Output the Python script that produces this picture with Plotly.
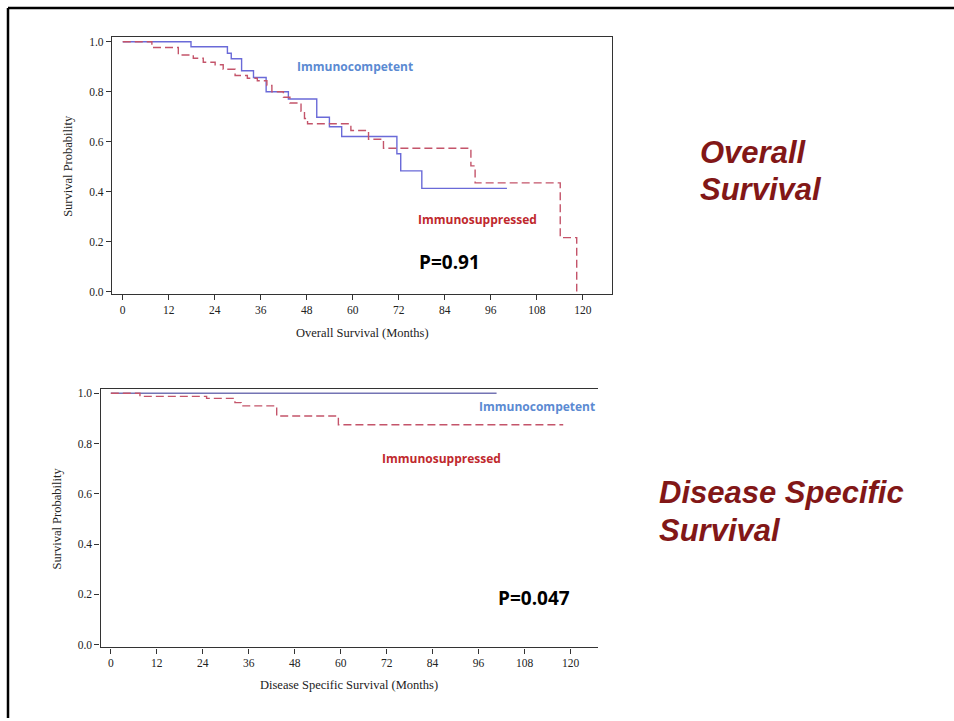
import plotly.graph_objects as go

W, H = 954, 721

# ---------------- data ----------------
os_comp_t = [0, 17.8, 27.3, 28.3, 31.0, 34.1, 37.4, 43.2, 50.6, 53.9, 57.1, 71.5, 72.5, 78.0, 100.2]
os_comp_s = [1.0, 0.98, 0.954, 0.932, 0.884, 0.857, 0.80, 0.771, 0.698, 0.66, 0.621, 0.552, 0.483, 0.413, 0.413]

os_supp_t = [0, 7.6, 14.5, 18.4, 21.0, 24.1, 26.2, 29.3, 32.5, 35.1, 37.6, 38.9, 41.9, 43.6, 46.5, 47.4, 48.2,
             59.5, 64.1, 68.0, 90.8, 91.9, 114.1, 118.4]
os_supp_s = [1.0, 0.977, 0.947, 0.934, 0.918, 0.908, 0.890, 0.865, 0.854, 0.844, 0.825, 0.80, 0.778, 0.755,
             0.722, 0.693, 0.672, 0.645, 0.61, 0.574, 0.503, 0.435, 0.216, 0.0]

dss_comp_t = [0, 100.7]
dss_comp_s = [1.0, 1.0]

dss_supp_t = [0, 7.6, 25.0, 32.4, 34.0, 43.3, 59.4, 118.1]
dss_supp_s = [1.0, 0.988, 0.980, 0.963, 0.950, 0.910, 0.875, 0.875]

x_ticks = [0, 12, 24, 36, 48, 60, 72, 84, 96, 108, 120]
y_ticks = [0.0, 0.2, 0.4, 0.6, 0.8, 1.0]
y_tick_labels = ["0.0", "0.2", "0.4", "0.6", "0.8", "1.0"]

# ---------------- helpers ----------------
def fx(px):
    return px / W

def fy(py):
    return 1 - py / H

BLUE = "#6a6ad8"
RED = "#c4546a"
SERIF = "Liberation Serif"

fig = go.Figure()

fig.add_trace(go.Scatter(x=os_comp_t, y=os_comp_s, mode="lines", line=dict(shape="hv", color=BLUE, width=1.4),
                         xaxis="x", yaxis="y", hoverinfo="skip"))
fig.add_trace(go.Scatter(x=os_supp_t, y=os_supp_s, mode="lines",
                         line=dict(shape="hv", color=RED, width=1.4, dash="8px,4px"),
                         xaxis="x", yaxis="y", hoverinfo="skip"))
fig.add_trace(go.Scatter(x=dss_comp_t, y=dss_comp_s, mode="lines", line=dict(shape="hv", color="#7474b4", width=1.4),
                         xaxis="x2", yaxis="y2", hoverinfo="skip"))
fig.add_trace(go.Scatter(x=dss_supp_t, y=dss_supp_s, mode="lines",
                         line=dict(shape="hv", color=RED, width=1.4, dash="8px,4px"),
                         xaxis="x2", yaxis="y2", hoverinfo="skip"))

axis_common = dict(showgrid=False, zeroline=False, showline=True, linecolor="#333333", linewidth=1.3,
                   ticks="outside", ticklen=5, tickcolor="#333333", tickwidth=1,
                   tickfont=dict(family=SERIF, size=11.5, color="#222222"))

fig.update_layout(
    width=W, height=H, margin=dict(l=0, r=0, t=0, b=0),
    paper_bgcolor="white", plot_bgcolor="white", showlegend=False,
    xaxis=dict(domain=[fx(112), fx(612)], range=[-2.8, 127.6], tickvals=x_ticks, mirror=True,
               anchor="y", **axis_common),
    yaxis=dict(domain=[fy(294.3), fy(35.7)], range=[-0.011, 1.0175], tickvals=y_ticks, ticktext=y_tick_labels,
               mirror=True, anchor="x", **axis_common),
    xaxis2=dict(domain=[fx(100.5), fx(597.7)], range=[-2.7, 127.1], tickvals=x_ticks, mirror=True,
                anchor="y2", **axis_common),
    yaxis2=dict(domain=[fy(650), fy(390)], range=[-0.011, 1.016], tickvals=y_ticks, ticktext=y_tick_labels,
                mirror=False, anchor="x2", **axis_common),
)

def ann(text, x, y, size, color, family="Open Sans", xanchor="center", textangle=0):
    fig.add_annotation(text=text, x=fx(x), y=fy(y), xref="paper", yref="paper", showarrow=False,
                       xanchor=xanchor, yanchor="middle", textangle=textangle,
                       font=dict(family=family, size=size, color=color))

# in-chart labels
ann("<b>Immunocompetent</b>", 355, 64.5, 12, "#5b8ad2")
ann("<b>Immunosuppressed</b>", 478, 219.5, 12, "#c0282d")
ann("<b>P=0.91</b>", 449.5, 261.5, 19, "#000000")
ann("<b>Immunocompetent</b>", 536.5, 407.5, 12, "#5b8ad2")
ann("<b>Immunosuppressed</b>", 441, 459.5, 12, "#c0282d")
ann("<b>P=0.047</b>", 534, 600.5, 19, "#000000")

# axis titles
ann("Overall Survival (Months)", 362, 333, 12.5, "#222222", family=SERIF)
ann("Disease Specific Survival (Months)", 349, 688, 12.5, "#222222", family=SERIF)
ann("Survival Probability", 68, 165, 12.5, "#222222", family=SERIF, textangle=-90)
ann("Survival Probability", 57, 520, 12.5, "#222222", family=SERIF, textangle=-90)

# slide titles
TITLE = "#821717"
ann("<b><i>Overall</i></b>", 698, 152, 31, TITLE, family="Liberation Sans", xanchor="left")
ann("<b><i>Survival</i></b>", 698, 189, 31, TITLE, family="Liberation Sans", xanchor="left")
ann("<b><i>Disease Specific</i></b>", 657, 494, 31, TITLE, family="Liberation Sans", xanchor="left")
ann("<b><i>Survival</i></b>", 657, 532, 31, TITLE, family="Liberation Sans", xanchor="left")

# slide frame
fig.add_shape(type="line", xref="paper", yref="paper", x0=fx(8), x1=1, y0=fy(6), y1=fy(6),
              line=dict(color="#000000", width=2.5))
fig.add_shape(type="line", xref="paper", yref="paper", x0=fx(8), x1=fx(8), y0=fy(6), y1=0,
              line=dict(color="#000000", width=2.5))

fig.write_html("out.html")
